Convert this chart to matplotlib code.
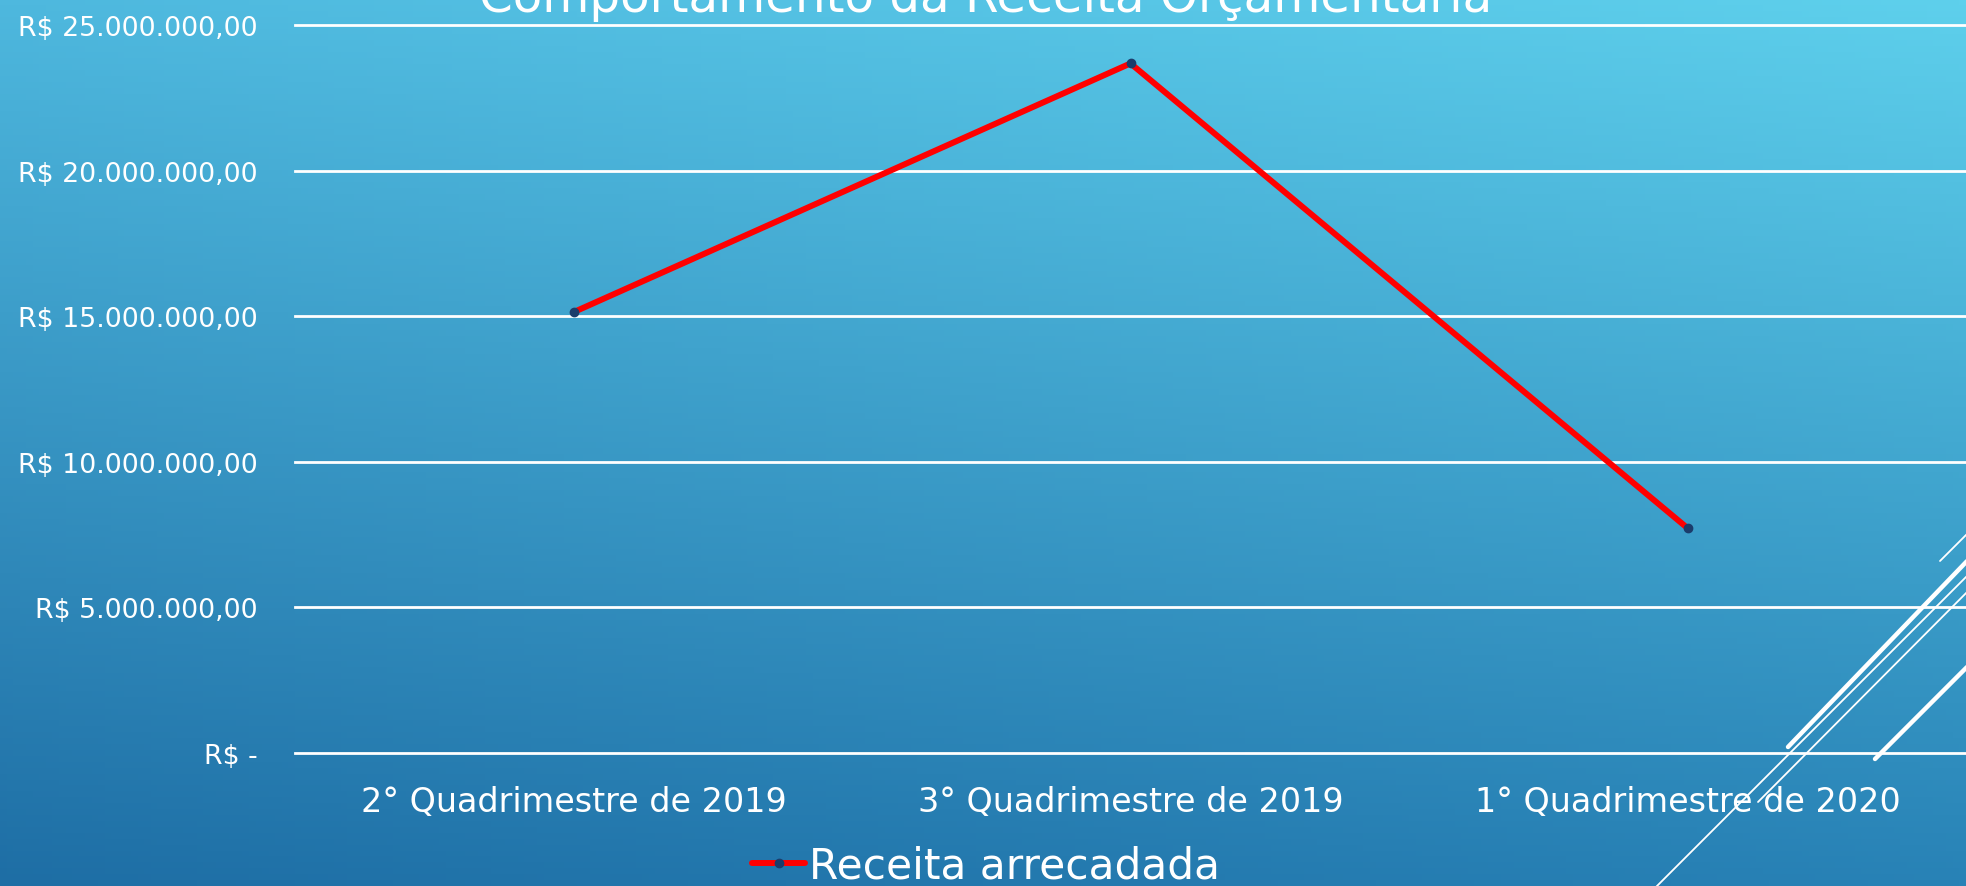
import numpy as np
import matplotlib
matplotlib.use("Agg")
import matplotlib.pyplot as plt
from matplotlib.lines import Line2D

plt.rcParams['font.family'] = ['DejaVu Sans']

# dados
categorias = ["2° Quadrimestre de 2019", "3° Quadrimestre de 2019", "1° Quadrimestre de 2020"]
receita = [15140000, 23690000, 7720000]
yticks = [0, 5000000, 10000000, 15000000, 20000000, 25000000]
ytick_labels = ["R$ -", "R$ 5.000.000,00", "R$ 10.000.000,00", "R$ 15.000.000,00",
                "R$ 20.000.000,00", "R$ 25.000.000,00"]
titulo = "Comportamento da Receita Orçamentária"
serie = "Receita arrecadada"

W, H = 1966, 887
fig = plt.figure(figsize=(W / 100, H / 100), dpi=100)

# fundo em degradê
bg = fig.add_axes([0, 0, 1, 1])
bg.axis('off')
tl = np.array([78, 184, 222])
tr = np.array([94, 208, 236])
bl = np.array([30, 110, 165])
br = np.array([40, 130, 182])
u = np.linspace(0, 1, 300)[None, :, None]
v = np.linspace(0, 1, 150)[:, None, None]
img = (1 - v) * ((1 - u) * tl + u * tr) + v * ((1 - u) * bl + u * br)
bg.imshow(img / 255, aspect='auto', extent=[0, 1, 0, 1])
bg.set_xlim(0, 1)
bg.set_ylim(0, 1)

ax = fig.add_axes([295 / W, 1 - 753.7 / H, 1 - 295 / W, (753.7 - 26.3) / H])
ax.patch.set_alpha(0)
x = np.arange(len(categorias))
ax.plot(x, receita, color='#FF0000', lw=4.3, marker='o', ms=6,
        mfc='#1B3C6B', mec='#1B3C6B', label=serie, solid_capstyle='round', zorder=3)
ax.set_xlim(-0.5, len(categorias) - 0.5)
ax.set_ylim(0, 25000000)
ax.set_yticks(yticks)
ax.set_yticklabels(ytick_labels)
ax.set_xticks(x)
ax.set_xticklabels(categorias)
ax.yaxis.grid(True, color='white', lw=2)
for gl in ax.get_ygridlines():
    gl.set_clip_on(False)
ax.set_axisbelow(True)
for s in ax.spines.values():
    s.set_visible(False)
ax.tick_params(axis='y', length=0, pad=27, labelsize=19.3, labelcolor='white')
ax.tick_params(axis='x', length=0, pad=23, labelsize=24, labelcolor='white')

fig.text(986 / W, 1 - 12 / H, titulo, ha='center', va='baseline', fontsize=34.8, color='white')

leg = fig.legend(loc='center', bbox_to_anchor=(986 / W, 1 - 867 / H), frameon=False,
                 fontsize=30.5, handlelength=1.25, handletextpad=0.08, labelcolor='white')

# linhas decorativas do canto
def linha(x0, y0, x1, y1, lw):
    fig.add_artist(Line2D([x0 / W, x1 / W], [1 - y0 / H, 1 - y1 / H], color='white',
                          lw=lw, solid_capstyle='round', transform=fig.transFigure))

linha(1940, 562, 1995, 507, 1.3)
linha(1788, 748, 1995, 533, 3.2)
linha(1647, 897, 1995, 549, 1.3)
linha(1758, 803, 1995, 565, 1.3)
linha(1875, 760, 1995, 640, 3.2)

fig.savefig("out.png", dpi=100)
